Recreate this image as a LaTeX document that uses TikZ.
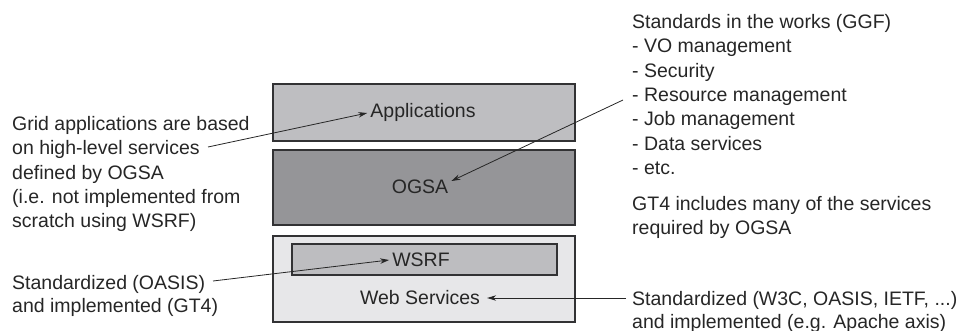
\documentclass[tikz,border=0pt]{standalone}
\usepackage{fontspec}
\setmainfont{Liberation Sans}
\usetikzlibrary{arrows.meta}

\definecolor{inkc}{RGB}{38,38,38}
\definecolor{edgec}{RGB}{50,50,52}
\definecolor{appfill}{RGB}{190,190,193}
\definecolor{ogsafill}{RGB}{149,149,152}
\definecolor{wsfill}{RGB}{231,231,233}
\definecolor{wsrffill}{RGB}{189,189,192}

\begin{document}
\begin{tikzpicture}[x=1pt,y=-1pt,
  txt/.style={font=\fontsize{19.5}{24.4}\selectfont, text=inkc, inner sep=0pt},
  note/.style={txt, align=left, anchor=north west},
  layer/.style={draw=edgec, line width=1.1pt, inner sep=0pt},
  label/.style={txt, inner sep=3pt},
  pointer/.style={draw=inkc, line width=0.8pt,
    -{Stealth[length=9pt,width=5.5pt]}}]

\useasboundingbox (0,0) rectangle (963,331);

% stacked layers
\node[layer, fill=appfill,  minimum width=302pt, minimum height=57pt] (appbox)  at (424,112.5) {};
\node[layer, fill=ogsafill, minimum width=302pt, minimum height=75pt] (ogsabox) at (424,187.5) {};
\node[layer, fill=wsfill,   minimum width=302pt, minimum height=86pt] (wsbox)   at (424,279) {};
\node[layer, fill=wsrffill, minimum width=265pt, minimum height=31pt] (wsrfbox) at (424.5,259.5) {};

% layer names
\node[label] (apptext)  at (423,112) {Applications};
\node[label] (ogsatext) at (420,187) {OGSA};
\node[label] (wsrftext) at (421,260) {WSRF};
\node[label] (wstext)   at (420,298) {Web Services};

% side notes
\node[note] (gridnote) at (12,116) {Grid applications are based\\
  on high-level services\\ defined by OGSA\\
  (i.e. not implemented from\\ scratch using WSRF)};
\node[note] (ggfnote) at (632,14) {Standards in the works (GGF)\\
  - VO management\\ - Security\\ - Resource management\\
  - Job management\\ - Data services\\ - etc.};
\node[note] (gt4note) at (632,196) {GT4 includes many of the services\\
  required by OGSA};
\node[note, font=\fontsize{19.5}{23}\selectfont] (oasisnote) at (12,275) {Standardized (OASIS)\\
  and implemented (GT4)};
\node[note, font=\fontsize{19.5}{23}\selectfont] (w3cnote) at (632,291) {Standardized (W3C, OASIS, IETF, ...)\\
  and implemented (e.g. Apache axis)};

% free ends of the pointers, next to the note texts
\coordinate (gridend)  at (208,147);
\coordinate (ggfend)   at (623,100);
\coordinate (oasisend) at (213,281);
\coordinate (w3cend)   at (626,298);

\draw[pointer] (gridend)  -- ([yshift=-1pt]apptext.west);
\draw[pointer] (ggfend)   -- ([yshift=6pt]ogsatext.east);
\draw[pointer] (oasisend) -- (wsrftext.west);
\draw[pointer] (w3cend)   -- ([xshift=4pt]wstext.east);
\end{tikzpicture}
\end{document}
